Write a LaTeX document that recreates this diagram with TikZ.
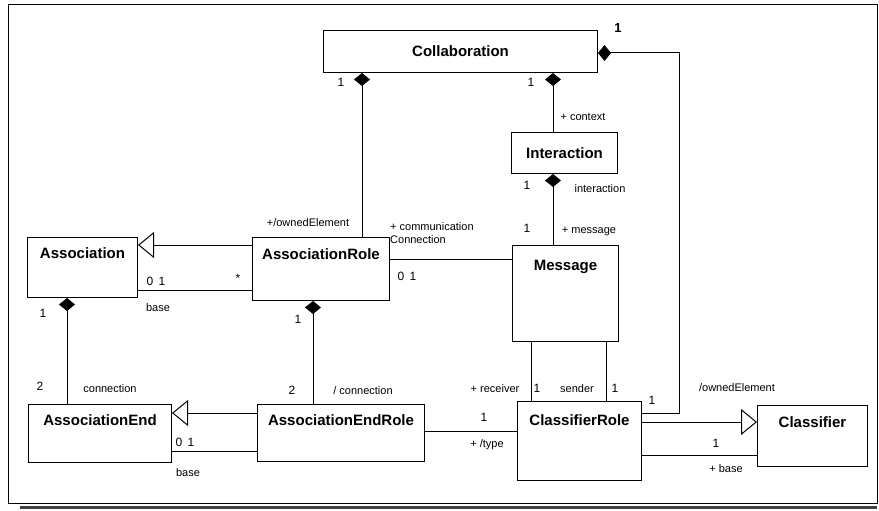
\documentclass[tikz,border=0pt]{standalone}
\usepackage{fontspec}
\setmainfont{Liberation Sans}
\usetikzlibrary{arrows.meta,calc}
\begin{document}
\begin{tikzpicture}[x=1pt,y=-1pt,
 box/.style={draw, line width=1pt, inner sep=0pt, anchor=north west},
 title/.style={font=\fontsize{15}{18}\selectfont\bfseries, inner sep=0pt, text height=10.7pt, text depth=0pt},
 lbl/.style={font=\fontsize{11}{13}\selectfont, inner sep=0pt, text height=8pt, text depth=0pt},
 mult/.style={font=\fontsize{12}{14}\selectfont, inner sep=0pt, text height=8.6pt, text depth=0pt},
 conn/.style={line width=1pt},
 comp/.style={conn, {Diamond[length=13pt,width=16pt]}-},
 gen/.style={conn, -{Triangle[open,length=16pt,width=26pt,line width=1pt]}},
]
\useasboundingbox (0,0) rectangle (879,511);
% frame
\draw[line width=1pt] (8,5) rectangle (877,503);
\draw[line width=3pt, black!75] (20,507.5) -- (877,507.5);

% boxes
\node[box, minimum width=274pt, minimum height=42pt] (collab) at (323,30) {};
\node[box, minimum width=106pt, minimum height=41pt] (inter) at (511,132) {};
\node[box, minimum width=110pt, minimum height=60pt] (assoc) at (27,237) {};
\node[box, minimum width=137pt, minimum height=63pt] (assocRole) at (252,237) {};
\node[box, minimum width=106pt, minimum height=96pt] (msg) at (512,245) {};
\node[box, minimum width=143pt, minimum height=58pt] (assocEnd) at (28,404) {};
\node[box, minimum width=167pt, minimum height=57pt] (assocEndRole) at (257,404) {};
\node[box, minimum width=124pt, minimum height=79pt] (clsRole) at (517,401) {};
\node[box, minimum width=110pt, minimum height=61pt] (cls) at (757,405) {};

% titles
\node[title] (collabT) at (collab.center) {Collaboration};
\node[title] (interT) at (inter.center) {Interaction};
\node[title] (assocT) at (assoc.north |- 0,253) {Association};
\node[title] (assocRoleT) at (assocRole.north |- 0,254) {AssociationRole};
\node[title] (msgT) at (msg.north |- 0,265) {Message};
\node[title] (assocEndT) at (assocEnd.north |- 0,420) {AssociationEnd};
\node[title] (assocEndRoleT) at (assocEndRole.north |- 0,420) {AssociationEndRole};
\node[title] (clsRoleT) at (clsRole.north |- 0,420) {ClassifierRole};
\node[title] (clsT) at (cls.north |- 0,422) {Classifier};

% connectors
\coordinate (bend) at (679,413);
\draw[comp] (collab.south -| 362,0) -- (assocRole.north -| 362,0);
\draw[comp] (collab.south -| 553,0) -- (inter.north -| 553,0);
\draw[comp] (inter.south -| 553,0) -- (msg.north -| 553,0);
\draw[comp] (collab.east |- 0,53) -| (bend) -- (clsRole.east |- bend);
\draw[gen] (assocRole.west |- 0,245) -- (assoc.east |- 0,245);
\draw[conn] (assoc.east |- 0,290) -- (assocRole.west |- 0,290);
\draw[comp] (assoc.south -| 67,0) -- (assocEnd.north -| 67,0);
\draw[comp] (assocRole.south -| 313,0) -- (assocEndRole.north -| 313,0);
\draw[conn] (assocRole.east |- 0,259) -- (msg.west |- 0,259);
\draw[conn] (msg.south -| 531,0) -- (clsRole.north -| 531,0);
\draw[conn] (msg.south -| 606,0) -- (clsRole.north -| 606,0);
\draw[gen] (assocEndRole.west |- 0,413) -- (assocEnd.east |- 0,413);
\draw[conn] (assocEnd.east |- 0,451) -- (assocEndRole.west |- 0,451);
\draw[conn] (assocEndRole.east |- 0,431) -- (clsRole.west |- 0,431);
\draw[gen] (clsRole.east |- 0,422) -- (cls.west |- 0,422);
\draw[conn] (clsRole.east |- 0,455) -- (cls.west |- 0,455);

% labels
\node[mult] (m1) at (341,82) {1};
\node[lbl] (l1) at (308,222) {+/ownedElement};
\node[mult] (m2) at (531,82) {1};
\node[lbl] (l2) at (583,117) {+ context};
\node[mult] (m3) at (527,185) {1};
\node[lbl] (l3) at (600,188) {interaction};
\node[mult] (m4) at (527,228) {1};
\node[lbl] (l4) at (589,229) {+ message};
\node[lbl, align=left, anchor=west, text height=, text depth=] (l5) at (390,233) {+ communication\\Connection};
\node[mult] (m5) at (407,276) {0\hspace{0.45em}1};
\node[mult] (m6) at (156,281) {0\hspace{0.45em}1};
\node[mult] (m7) at (238,278) {*};
\node[lbl] (l6) at (158,307) {base};
\node[mult] (m8) at (43,313) {1};
\node[mult] (m9) at (40,386) {2};
\node[lbl] (l7) at (110,388) {connection};
\node[mult] (m10) at (298,319) {1};
\node[mult] (m11) at (292,390) {2};
\node[lbl] (l8) at (363,390) {/ connection};
\node[lbl] (l9) at (495,388) {+ receiver};
\node[mult] (m12) at (537,388) {1};
\node[lbl] (l10) at (577,388) {sender};
\node[mult] (m13) at (615,388) {1};
\node[mult] (m14) at (652,400) {1};
\node[lbl] (l11) at (737,387) {/ownedElement};
\node[mult, font=\fontsize{13}{15}\selectfont\bfseries] (m15) at (618,28) {1};
\node[mult] (m16) at (484,417) {1};
\node[lbl] (l12) at (487,443) {+ /type};
\node[mult] (m17) at (716,443) {1};
\node[lbl] (l13) at (726,468) {+ base};
\node[mult] (m18) at (185,442) {0\hspace{0.45em}1};
\node[lbl] (l14) at (188,472) {base};
\end{tikzpicture}
\end{document}
